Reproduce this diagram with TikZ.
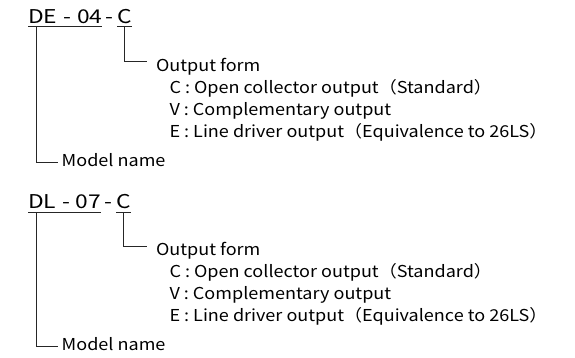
\documentclass[tikz,border=0pt]{standalone}
\usepackage{fontspec}
\setmainfont{Noto Sans CJK JP}[FakeStretch=1.1]
\usetikzlibrary{positioning, calc}

\begin{document}
\begin{tikzpicture}[
            x=1pt, y=-1pt,
            codetext/.style={font=\fontsize{19}{21}\selectfont\addfontfeature{FakeStretch=1.2}, inner sep=0pt, outer sep=0pt, anchor=base west},
            dashtext/.style={codetext, inner xsep=3.5pt},
            note/.style={font=\fontsize{16.4}{18}\selectfont, inner sep=0pt, outer sep=0pt, anchor=base west},
            lead/.style={draw=black!85, line width=0.9pt}
            ]
        \useasboundingbox (0,0) rectangle (575,357);

        % first type code
        \node[codetext] (model1) at (28,23.3) {DE\hspace{6pt}-\hspace{6pt}04};
        \node[dashtext] (dash1) at (model1.base east) {-};
        \node[codetext] (kind1) at (dash1.base east) {C};
        \node[note] (form1) at (156,71) {Output form};
        \node[note] (c1) at (169.5,93) {C : Open collector output（Standard）};
        \node[note] (v1) at (169.5,115) {V : Complementary output};
        \node[note] (e1) at (169.5,137) {E : Line driver output（Equivalence to 26LS）};
        \node[note] (name1) at (61.7,166) {Model name};

        \draw[lead] ([yshift=-3.5pt]model1.base west) -- ([yshift=-3.5pt]model1.base east);
        \draw[lead] ([yshift=-3.5pt]kind1.base west) -- ([yshift=-3.5pt]kind1.base east);
        \draw[lead] ([xshift=8.5pt,yshift=-3.5pt]model1.base west) |- ([xshift=-4pt,yshift=3.7pt]name1.base west);
        \draw[lead] ([yshift=-3.5pt]kind1.base) |- ([xshift=-9.3pt,yshift=9.3pt]form1.base west);

        % second type code
        \node[codetext] (model2) at (28,208.5) {DL\hspace{6pt}-\hspace{6pt}07};
        \node[dashtext] (dash2) at (model2.base east) {-};
        \node[codetext] (kind2) at (dash2.base east) {C};
        \node[note] (form2) at (156,255.5) {Output form};
        \node[note] (c2) at (169.5,277.5) {C : Open collector output（Standard）};
        \node[note] (v2) at (169.5,299.5) {V : Complementary output};
        \node[note] (e2) at (169.5,321.5) {E : Line driver output（Equivalence to 26LS）};
        \node[note] (name2) at (61.7,350.5) {Model name};

        \draw[lead] ([yshift=-3.5pt]model2.base west) -- ([yshift=-3.5pt]model2.base east);
        \draw[lead] ([yshift=-3.5pt]kind2.base west) -- ([yshift=-3.5pt]kind2.base east);
        \draw[lead] ([xshift=8.5pt,yshift=-3.5pt]model2.base west) |- ([xshift=-4pt,yshift=3.7pt]name2.base west);
        \draw[lead] ([yshift=-3.5pt]kind2.base) |- ([xshift=-9.3pt,yshift=9.3pt]form2.base west);
\end{tikzpicture}
\end{document}
